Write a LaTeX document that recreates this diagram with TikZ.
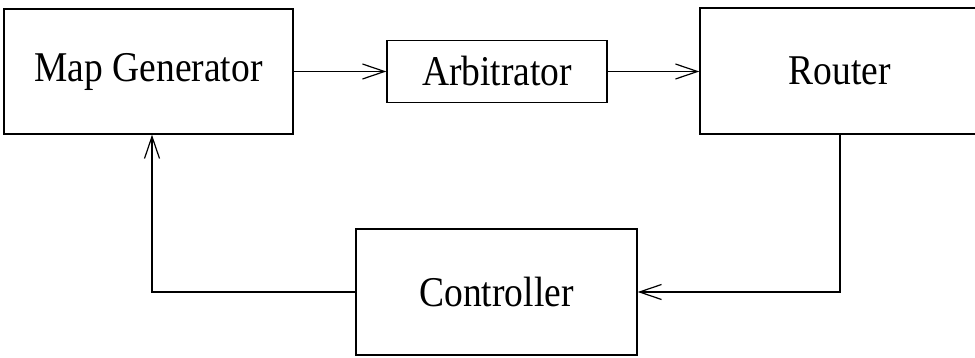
\documentclass[tikz,border=0pt]{standalone}
\usepackage{fontspec}
\usepackage{graphicx}
\setmainfont{Liberation Serif}
\usetikzlibrary{arrows.meta}
\newcommand\blktext[1]{\scalebox{1}[1.13]{#1}}
\begin{document}
\begin{tikzpicture}[x=1pt,y=-1pt,
  blk/.style={draw, line width=1.3pt, inner sep=0pt, anchor=center,
    font=\fontsize{37.5}{44}\selectfont},
  arr/.style={line width=1.2pt, -{Straight Barb[length=22pt,width=15pt,line width=1.2pt]}}]
\useasboundingbox (0,0) rectangle (975,358);
\clip (0,0) rectangle (975,358);
\node[blk, minimum width=289pt, minimum height=125pt] (mg) at (148.5,71.5) {\blktext{Map Generator}};
\node[blk, minimum width=220pt, minimum height=62pt] (arb) at (497,71.5) {\blktext{Arbitrator}};
\node[blk, minimum width=280pt, minimum height=126pt] (rt) at (840,71) {\blktext{Router}};
\node[blk, minimum width=281pt, minimum height=126pt] (ct) at (496.5,292) {\blktext{Controller}};
\coordinate (c1) at (152,292);
\draw[arr] (mg.east) -- (arb.west);
\draw[arr] (arb.east) -- (arb.east -| rt.west);
\draw[arr] (rt.south) |- (ct.east);
\draw[arr] (ct.west) -- (c1) -- (c1 |- mg.south);
\end{tikzpicture}
\end{document}
